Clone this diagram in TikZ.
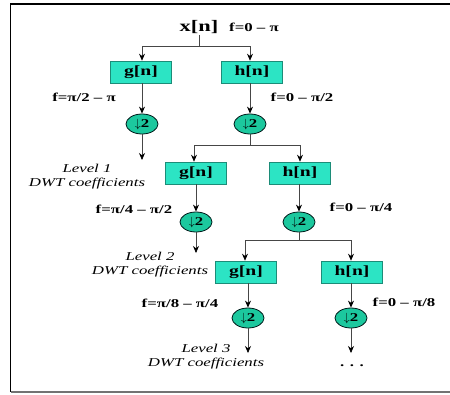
\documentclass[tikz,border=0pt]{standalone}
\usepackage{fontspec}
\setmainfont{Liberation Serif}[FakeStretch=1.4]
\usetikzlibrary{arrows.meta,shapes.geometric}
\definecolor{boxfill}{RGB}{44,228,196}
\definecolor{boxline}{RGB}{28,140,120}
\definecolor{ellfill}{RGB}{28,200,158}
\definecolor{conn}{RGB}{70,70,70}
\tikzset{
  filt/.style={draw=boxline, line width=0.6pt, fill=boxfill, minimum width=61pt, minimum height=22pt, inner sep=0pt, font=\fontsize{14}{14}\selectfont\bfseries},
  down/.style={draw=black!80!teal, line width=0.8pt, fill=ellfill, ellipse, minimum width=32pt, minimum height=20pt, inner sep=0pt, font=\fontsize{12}{12}\selectfont\bfseries},
  flab/.style={font=\fontsize{12}{12}\selectfont\bfseries, inner sep=0pt},
  lvl/.style={font=\fontsize{12}{14}\selectfont\itshape, align=center, inner sep=0pt},
  wire/.style={draw=conn, line width=0.7pt},
  arr/.style={wire, -{Stealth[length=7pt,width=6pt,color=black]}}
}
\begin{document}
\begin{tikzpicture}[x=1pt,y=-1pt]
\useasboundingbox (0,0) rectangle (450,394);
% frame
\draw[line width=1.8pt, black] (455,4) -- (10.5,4) -- (10.5,392);
\draw[line width=1.2pt, black!55] (10.5,392) -- (455,392);

% top
\node[font=\fontsize{16}{16}\selectfont\bfseries, inner sep=1pt] (x) at (199,27) {x[n]};
\node[flab] (f0) at (254,27) {f=0 – π};
\coordinate (s1) at (199,46);
\coordinate (s1l) at (142,46);
\coordinate (s1r) at (250,46);

% level 1
\node[filt] (g1) at (141,72) {g[n]};
\node[filt] (h1) at (252,72) {h[n]};
\node[down] (d1g) at (142,124) {$\downarrow$2};
\node[down] (d1h) at (250,124) {$\downarrow$2};
\node[flab] (l1g) at (84,97) {f=π/2 – π};
\node[flab] (l1h) at (302,97) {f=0 – π/2};
\coordinate (o1) at (142,160);
\node[lvl] (t1) at (87,177) {Level 1\\DWT coefficients};
\coordinate (s2) at (250,145);
\coordinate (s2l) at (194,145);
\coordinate (s2r) at (300,145);

% level 2
\node[filt] (g2) at (196,173) {g[n]};
\node[filt] (h2) at (300,173) {h[n]};
\node[down] (d2g) at (196,222) {$\downarrow$2};
\node[down] (d2h) at (299,222) {$\downarrow$2};
\node[flab] (l2g) at (134,209) {f=π/4 – π/2};
\node[flab] (l2h) at (361,207) {f=0 – π/4};
\coordinate (o2) at (196,253);
\node[lvl] (t2) at (150,265) {Level 2\\DWT coefficients};
\coordinate (s3) at (299,240);
\coordinate (s3l) at (245,240);
\coordinate (s3r) at (351,240);

% level 3
\node[filt] (g3) at (246,272) {g[n]};
\node[filt] (h3) at (352,272) {h[n]};
\node[down] (d3g) at (248,318) {$\downarrow$2};
\node[down] (d3h) at (351,318) {$\downarrow$2};
\node[flab] (l3g) at (180,303) {f=π/8 – π/4};
\node[flab] (l3h) at (404,302) {f=0 – π/8};
\coordinate (o3g) at (248,353);
\coordinate (o3h) at (351,353);
\node[lvl] (t3) at (206,357) {Level 3\\DWT coefficients};
\node[font=\fontsize{12}{12}\selectfont\bfseries, inner sep=0pt] (dots) at (352,366) {. . .};

% connectors level 1
\draw[wire] (x.south) -- (s1);
\draw[wire] (s1l) -- (s1r);
\draw[arr] (s1l) -- (g1.north -| s1l);
\draw[arr] (s1r) -- (h1.north -| s1r);
\draw[arr] (g1.south -| d1g) -- (d1g.north);
\draw[arr] (h1.south -| d1h) -- (d1h.north);
\draw[arr] (d1g.south) -- (o1);
\draw[wire] (d1h.south) -- (s2);
\draw[wire] (s2l) -- (s2r);
\draw[arr] (s2l) -- (g2.north -| s2l);
\draw[arr] (s2r) -- (h2.north);

% level 2
\draw[arr] (g2.south) -- (d2g.north);
\draw[arr] (h2.south -| d2h) -- (d2h.north);
\draw[arr] (d2g.south) -- (o2);
\draw[wire] (d2h.south) -- (s3);
\draw[wire] (s3l) -- (s3r);
\draw[arr] (s3l) -- (g3.north -| s3l);
\draw[arr] (s3r) -- (h3.north -| s3r);

% level 3
\draw[arr] (g3.south -| d3g) -- (d3g.north);
\draw[arr] (h3.south -| d3h) -- (d3h.north);
\draw[arr] (d3g.south) -- (o3g);
\draw[arr] (d3h.south) -- (o3h);
\end{tikzpicture}
\end{document}
